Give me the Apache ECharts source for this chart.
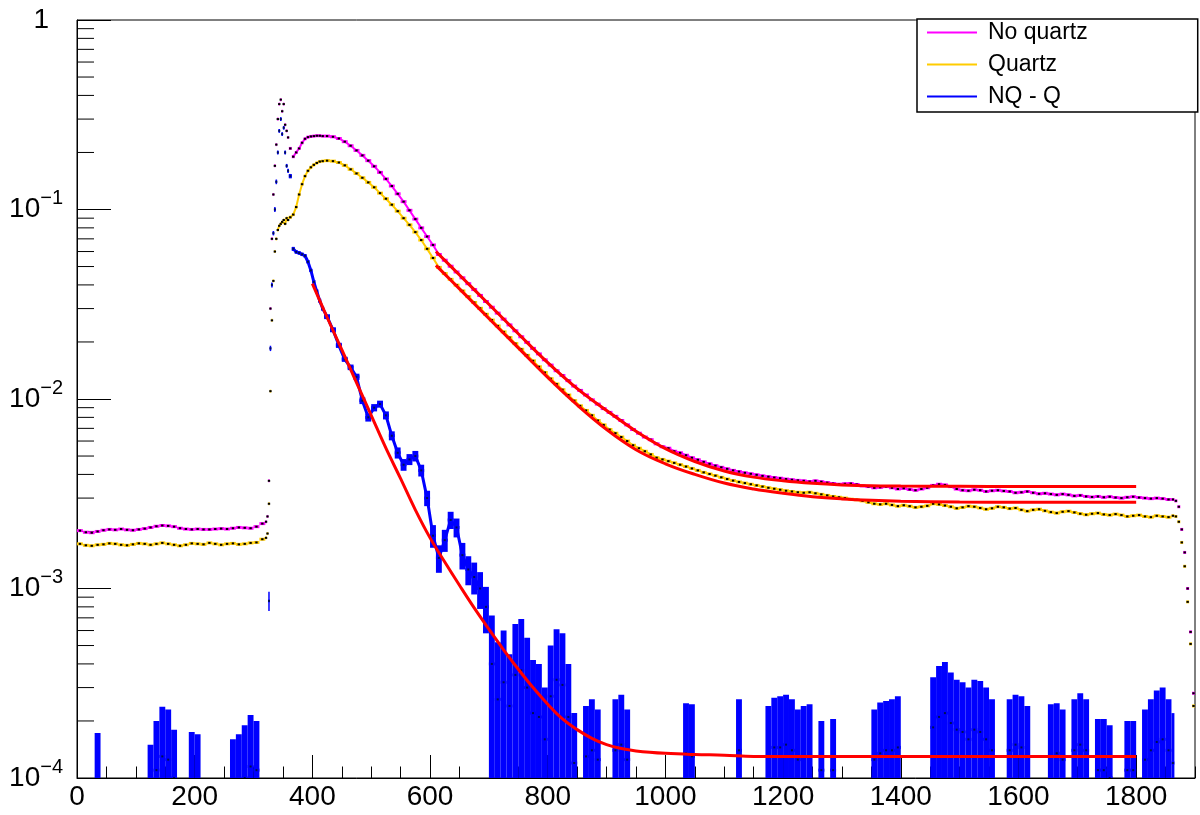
<!DOCTYPE html>
<html><head><meta charset="utf-8">
<script src="https://cdn.jsdelivr.net/npm/echarts@6/dist/echarts.min.js"></script>
<style>html,body{margin:0;padding:0;background:#fff}#c{width:1200px;height:815px}</style>
</head><body><div id="c"></div>
<script>
// histogram bin layout: [start, end, binWidth]
const binSegments = [[0,320,10],[320,360,2.5],[360,420,5],[420,1860,10],[1860,1900,5]];

const nqValues = [
// 0-320
2.02e-3,1.98e-3,1.97e-3,2.00e-3,2.03e-3,2.05e-3,2.04e-3,2.06e-3,2.04e-3,2.03e-3,
2.05e-3,2.07e-3,2.10e-3,2.13e-3,2.15e-3,2.14e-3,2.12e-3,2.08e-3,2.06e-3,2.05e-3,
2.06e-3,2.05e-3,2.05e-3,2.06e-3,2.07e-3,2.06e-3,2.08e-3,2.10e-3,2.09e-3,2.08e-3,
2.12e-3,2.20e-3,
// 320-360
2.25e-3,2.4e-3,3.7e-3,0.030,0.070,0.120,0.170,0.220,0.300,0.360,0.380,0.330,0.360,0.280,0.260,0.240,
// 360-420
0.210,0.190,0.200,0.210,0.225,0.236,0.241,0.243,0.244,0.245,0.245,0.244,
// 420-1860
0.244,0.242,0.237,0.228,0.217,0.205,0.193,0.181,0.169,0.157,
0.145,0.133,0.121,0.110,0.099,0.089,0.080,0.072,0.065,0.0579,
0.0540,0.0502,0.0468,0.0436,0.0406,0.0378,0.0352,0.0327,0.0305,0.0284,
0.0264,0.0246,0.0229,0.0213,0.0199,0.0185,0.0173,0.0161,0.0151,0.0141,
0.0133,0.0125,0.0117,0.0111,0.0105,0.0099,0.0094,0.0089,0.0085,0.0081,
0.0077,0.0073,0.0069,0.0066,0.0063,0.0061,0.0058,0.0056,0.0055,0.0053,
0.0052,0.00505,0.0049,0.00478,0.00466,0.00455,0.00445,0.00436,0.00428,0.0042,
0.00414,0.00408,0.00403,0.00398,0.00393,0.00389,0.00385,0.00382,0.00378,0.00375,
0.00372,0.0037,0.00367,0.0037,0.00366,0.00362,0.00358,0.00355,0.00357,0.00358,
0.00354,0.00348,0.00345,0.0034,0.00342,0.00345,0.0034,0.00335,0.00338,0.00333,
0.0033,0.00335,0.0034,0.0035,0.00355,0.00352,0.00345,0.00335,0.0033,0.00328,
0.00332,0.0033,0.00325,0.00328,0.0033,0.00327,0.00325,0.0032,0.00322,0.00325,
0.0032,0.00316,0.00318,0.00315,0.00312,0.00315,0.00312,0.00308,0.0031,0.00306,
0.00304,0.00306,0.00303,0.00305,0.00302,0.003,0.00303,0.00305,0.00302,0.003,
0.00298,0.003,0.00298,0.00295,
// 1860-1900
2.95e-3,2.9e-3,2.7e-3,2.05e-3,1.55e-3,1.0e-3,5.9e-4,2.8e-4
];

const qValues = [
1.72e-3,1.69e-3,1.68e-3,1.70e-3,1.71e-3,1.73e-3,1.72e-3,1.70e-3,1.69e-3,1.71e-3,
1.73e-3,1.72e-3,1.70e-3,1.72e-3,1.74e-3,1.72e-3,1.70e-3,1.68e-3,1.70e-3,1.73e-3,
1.72e-3,1.71e-3,1.74e-3,1.72e-3,1.70e-3,1.72e-3,1.73e-3,1.71e-3,1.72e-3,1.74e-3,
1.75e-3,1.82e-3,
1.85e-3,1.95e-3,2.8e-3,0.011,0.026,0.042,0.060,0.070,0.078,0.082,0.084,0.086,0.088,0.084,0.090,0.088,
0.091,0.094,0.103,0.120,0.136,0.150,0.160,0.167,0.172,0.176,0.179,0.180,
0.181,0.180,0.177,0.171,0.163,0.155,0.147,0.139,0.131,0.122,
0.114,0.106,0.098,0.090,0.083,0.076,0.069,0.062,0.0555,0.0495,
0.0459,0.0428,0.0399,0.0372,0.0347,0.0323,0.0301,0.0280,0.0261,0.0243,
0.0226,0.0211,0.0196,0.0183,0.0170,0.0159,0.0148,0.0138,0.0128,0.0120,
0.0112,0.0105,0.0098,0.0092,0.0087,0.0082,0.0077,0.0073,0.0069,0.0066,
0.0063,0.0060,0.0057,0.0055,0.0053,0.0051,0.0049,0.0048,0.0047,0.0046,
0.0045,0.0044,0.0043,0.0042,0.0041,0.00402,0.00394,0.00386,0.00378,0.00371,
0.00365,0.00360,0.00355,0.00350,0.00345,0.00340,0.00336,0.00332,0.00328,0.00325,
0.00322,0.00320,0.00322,0.00318,0.00314,0.00310,0.00306,0.00303,0.00300,0.00296,
0.00294,0.00290,0.00285,0.00280,0.00278,0.00280,0.00276,0.00272,0.00275,0.00272,
0.00268,0.00270,0.00273,0.00280,0.00278,0.00274,0.00270,0.00265,0.00268,0.00272,
0.00270,0.00266,0.00262,0.00265,0.00270,0.00268,0.00264,0.00266,0.00260,0.00256,
0.00260,0.00262,0.00257,0.00253,0.00250,0.00254,0.00256,0.00252,0.00248,0.00245,
0.00248,0.00250,0.00246,0.00244,0.00247,0.00244,0.00240,0.00242,0.00244,0.00240,
0.00238,0.00242,0.00240,0.00238,
2.42e-3,2.4e-3,2.25e-3,1.75e-3,1.31e-3,8.5e-4,5.1e-4,2.4e-4
];

const diffValues = [
null,null,null,0.95e-4,null,null,null,null,null,null,
null,null,0.8e-4,1.1e-4,1.3e-4,1.25e-4,1.0e-4,null,null,0.95e-4,
0.9e-4,null,null,null,null,null,0.85e-4,0.9e-4,1.0e-4,1.15e-4,
1.1e-4,null,
null,null,8.6e-4,0.0185,0.040,0.075,0.100,0.140,0.200,0.260,0.300,0.250,0.270,0.200,0.170,0.160,
0.150,0.062,0.0597,0.059,0.058,0.057,0.053,0.0477,0.0415,0.037,0.033,0.030,
0.0272,0.0232,0.0192,0.0162,0.0147,0.0131,0.0098,0.0080,0.0090,0.0094,
0.0082,0.0064,0.0052,0.0045,0.0048,0.0050,0.0042,0.0030,0.0019,0.00145,
0.0018,0.0023,0.0021,0.0015,0.00126,0.00115,0.0010,0.0008,0.0004,0.00026,
3.2e-4,2.4e-4,3.5e-4,3.7e-4,3.0e-4,2.2e-4,2.1e-4,1.6e-4,2.7e-4,3.3e-4,
3.1e-4,2.1e-4,1.2e-4,null,1.3e-4,1.4e-4,1.25e-4,null,null,1.4e-4,
1.5e-4,1.25e-4,null,null,null,null,null,null,null,null,
null,1.35e-4,1.3e-4,null,null,null,null,null,null,null,
1.4e-4,null,null,null,null,1.3e-4,1.45e-4,1.45e-4,1.5e-4,1.4e-4,
1.25e-4,1.3e-4,1.3e-4,null,1.1e-4,null,1.1e-4,null,null,null,
null,null,null,1.25e-4,1.35e-4,1.4e-4,1.4e-4,1.45e-4,null,null,
null,null,null,1.85e-4,2.1e-4,2.2e-4,1.95e-4,1.8e-4,1.75e-4,1.6e-4,
1.8e-4,1.75e-4,1.6e-4,1.4e-4,null,null,1.4e-4,1.5e-4,1.45e-4,1.3e-4,
null,null,null,1.3e-4,1.35e-4,1.25e-4,null,1.4e-4,1.5e-4,1.4e-4,
null,1.1e-4,1.1e-4,1.0e-4,null,null,1.1e-4,1.1e-4,null,1.25e-4,
1.4e-4,1.55e-4,1.6e-4,1.4e-4,
1.2e-4,null,null,null,null,null,null,null
];

const diffErrors = [
null,null,null,0.78e-4,null,null,null,null,null,null,
null,null,0.7e-4,0.9e-4,1.08e-4,1.05e-4,0.8e-4,null,null,0.8e-4,
0.8e-4,null,null,null,null,null,0.75e-4,0.8e-4,0.9e-4,1.0e-4,
0.9e-4,null,
null,null,1.0e-4,6e-4,1.2e-3,2e-3,3e-3,4e-3,5e-3,6e-3,7e-3,6e-3,6e-3,5e-3,4e-3,4e-3,
4e-3,1.5e-3,1.2e-3,1.2e-3,1.2e-3,1.2e-3,1.1e-3,1.0e-3,1.0e-3,9e-4,8e-4,8e-4,
8e-4,7e-4,6e-4,5e-4,5e-4,5e-4,4e-4,4e-4,4e-4,4e-4,
4e-4,3.5e-4,3.5e-4,3.2e-4,3.2e-4,3.2e-4,3e-4,2.8e-4,2.6e-4,2.4e-4,
2.4e-4,2.4e-4,2.4e-4,2.4e-4,2.2e-4,2.2e-4,2.2e-4,2.2e-4,3.2e-4,2.6e-4,
2.8e-4,2.1e-4,3.0e-4,3.2e-4,2.5e-4,2.0e-4,1.9e-4,1.4e-4,2.3e-4,2.8e-4,
2.7e-4,1.9e-4,1.0e-4,null,1.1e-4,1.2e-4,1.05e-4,null,null,1.2e-4,
1.25e-4,1.05e-4,null,null,null,null,null,null,null,null,
null,1.13e-4,1.15e-4,null,null,null,null,null,null,null,
1.2e-4,null,null,null,null,1.1e-4,1.2e-4,1.25e-4,1.25e-4,1.2e-4,
1.05e-4,1.1e-4,1.15e-4,null,0.9e-4,null,0.95e-4,null,null,null,
null,null,null,1.05e-4,1.15e-4,1.15e-4,1.2e-4,1.25e-4,null,null,
null,null,null,1.55e-4,1.8e-4,1.9e-4,1.65e-4,1.5e-4,1.45e-4,1.4e-4,
1.5e-4,1.5e-4,1.4e-4,1.2e-4,null,null,1.2e-4,1.25e-4,1.25e-4,1.1e-4,
null,null,null,1.15e-4,1.13e-4,1.05e-4,null,1.2e-4,1.3e-4,1.2e-4,
null,0.95e-4,0.95e-4,0.9e-4,null,null,0.9e-4,0.9e-4,null,1.05e-4,
1.2e-4,1.35e-4,1.4e-4,1.2e-4,
1.0e-4,null,null,null,null,null,null,null
];

// fit curves
const nqFitX = [610,650,700,750,800,850,900,950,1000,1050,1100,1150,1200,1250,1300,1350,1400,1500,1600,1700,1800];
const nqFitY = [0.060,0.0451,0.0316,0.0221,0.01556,0.01135,0.0087,0.00676,0.00547,0.00468,0.00417,0.00387,0.0037,0.00359,0.00352,0.00348,0.00347,0.00346,0.00345,0.00345,0.00345];
const qFitY  = [0.0507,0.0381,0.0266,0.0186,0.013,0.0093,0.0069,0.0054,0.00455,0.004,0.0036,0.00335,0.00318,0.00305,0.00297,0.00292,0.00289,0.00286,0.00285,0.00285,0.00285];
const diffFitX = [400,425,450,475,500,525,550,575,600,625,650,675,700,725,750,775,800,825,850,875,900,925,950,1000,1050,1100,1150,1200,1400,1600,1800];
const diffFitY = [0.0406,0.027,0.0182,0.0122,0.0082,0.0055,0.0038,0.0026,0.00185,0.00138,0.00104,7.9e-4,6.1e-4,4.75e-4,3.75e-4,3.0e-4,2.45e-4,2.05e-4,1.8e-4,1.62e-4,1.5e-4,1.43e-4,1.39e-4,1.35e-4,1.33e-4,1.32e-4,1.3e-4,1.3e-4,1.3e-4,1.3e-4,1.3e-4];

// ranges where neighbouring bins read as one continuous trace
const nqTraceRange = [365, 1860];
const qTraceRange = [340, 1860];
const diffTraceRange = [365, 700];

const seriesNames = ['No quartz','Quartz','NQ - Q'];
const yMinorTicks = [2e-4,3e-4,4e-4,5e-4,6e-4,7e-4,8e-4,9e-4,2e-3,3e-3,4e-3,5e-3,6e-3,7e-3,8e-3,9e-3,
  0.02,0.03,0.04,0.05,0.06,0.07,0.08,0.09,0.2,0.3,0.4,0.5,0.6,0.7,0.8,0.9];

// ---- build bins ----
const bins = [];
binSegments.forEach(([a,b,s]) => { for (let k = 0; a + (k + 0.5) * s < b; k++) bins.push([a + (k + 0.5) * s, s]); });
[nqValues,qValues,diffValues,diffErrors].forEach((arr,i)=>{ if (arr.length !== bins.length) throw new Error('length mismatch '+i+': '+arr.length+' vs '+bins.length); });

const nqData = bins.map((b,i)=>[b[0], nqValues[i], b[1]]);
const qData = bins.map((b,i)=>[b[0], qValues[i], b[1]]);
const diffData = [];
bins.forEach((b,i)=>{ if (diffValues[i] != null) diffData.push([b[0], diffValues[i], diffErrors[i], b[1]]); });
function trace(vals, range){ const out=[]; bins.forEach((b,i)=>{ if (vals[i]!=null && b[0]>=range[0] && b[0]<=range[1]) out.push([b[0], vals[i]]); }); return out; }

const FONT = '"Liberation Sans", Arial, Helvetica, sans-serif';
const C_NQ = '#ff00ff', C_Q = '#ffcc00', C_D = '#0000ff', C_FIT = '#ff0000';

function histRender(color){
  return function(params, api){
    const x = api.value(0), y = api.value(1), w = api.value(2);
    const l = api.coord([x - w/2, y]), r = api.coord([x + w/2, y]), c = api.coord([x, y]);
    return {type:'group', children:[
      {type:'rect', shape:{x:l[0], y:c[1]-1.5, width:Math.max(r[0]-l[0],1.5), height:3}, style:{fill:color}},
      {type:'rect', shape:{x:c[0]-1.2, y:c[1]-1, width:2.4, height:2}, style:{fill:'#000'}}
    ]};
  };
}
function diffRender(params, api){
  const x = api.value(0), y = api.value(1), e = api.value(2), w = api.value(3);
  const l = api.coord([x - w/2, y]), r = api.coord([x + w/2, y]), c = api.coord([x, y]);
  const top = api.coord([x, y + e])[1];
  const bot = api.coord([x, Math.max(y - e, 1e-7)])[1];
  const wpx = Math.max(r[0]-l[0], 1.5);
  return {type:'group', children:[
    {type:'rect', shape:{x:l[0], y:top, width:wpx, height:Math.max(bot-top,1)}, style:{fill:C_D}},
    {type:'rect', shape:{x:l[0], y:c[1]-1.5, width:wpx, height:3}, style:{fill:C_D}},
    {type:'rect', shape:{x:c[0]-1, y:c[1]-1, width:2, height:2}, style:{fill:'#001050'}}
  ]};
}
function zip(xs, ys){ return xs.map((x,i)=>[x, ys[i]]); }

const chart = echarts.init(document.getElementById('c'), null, {renderer:'canvas'});
chart.setOption({
  animation:false,
  backgroundColor:'#fff',
  grid:{left:77, right:5, top:20, bottom:37, show:true, borderColor:'#000', borderWidth:1, backgroundColor:'transparent'},
  legend:{
    data:seriesNames, orient:'vertical', left:917, top:19, icon:'rect', itemWidth:50, itemHeight:2, itemGap:9,
    padding:[2,110,4,10], borderColor:'#000', borderWidth:1.5, backgroundColor:'#fff', selectedMode:false,
    textStyle:{fontSize:23, lineHeight:23, fontFamily:FONT, color:'#000', padding:[0,0,0,6]}
  },
  xAxis:[
    {type:'value', min:0, max:1900, interval:200,
     axisLine:{show:true, lineStyle:{color:'#000', width:1}},
     axisTick:{show:true, inside:true, length:23, lineStyle:{color:'#000', width:1}},
     axisLabel:{fontSize:28, fontFamily:FONT, color:'#000', margin:5, showMaxLabel:false, formatter:function(v){ return String(v); }},
     splitLine:{show:false}},
    {type:'value', min:0, max:1900, interval:50, position:'bottom',
     axisLine:{show:false}, axisLabel:{show:false}, splitLine:{show:false},
     axisTick:{show:true, inside:true, length:11.5, lineStyle:{color:'#000', width:1}}}
  ],
  yAxis:{type:'log', logBase:10, min:1e-4, max:1,
    axisLine:{show:true, lineStyle:{color:'#000', width:1}},
    axisTick:{show:true, inside:true, length:34, lineStyle:{color:'#000', width:1}},
    splitLine:{show:false},
    axisLabel:{margin:14, color:'#000',
      formatter:function(v){ const n = Math.round(Math.log10(v)); return n === 0 ? '{one|1}' : '{b|10}{s|\u2212' + (-n) + '}'; },
      rich:{b:{fontSize:28, fontFamily:FONT, color:'#000'},
            one:{fontSize:28, fontFamily:FONT, color:'#000', padding:[0,14,0,0]},
            s:{fontSize:20, fontFamily:FONT, color:'#000', padding:[0,0,22,0]}}}
  },
  series:[
    {type:'custom', name:'yMinorTicks', silent:true, clip:false, data:yMinorTicks.map(v=>[0,v]), encode:{x:0,y:1},
     renderItem:function(params, api){ const p = api.coord([api.value(0), api.value(1)]);
       return {type:'line', shape:{x1:p[0], y1:p[1], x2:p[0]+17, y2:p[1]}, style:{stroke:'#000', lineWidth:1}}; }},
    {type:'line', name:'diffTrace', data:trace(diffValues, diffTraceRange), showSymbol:false, lineStyle:{color:C_D, width:3}, z:1, silent:true},
    {type:'line', name:'qTrace', data:trace(qValues, qTraceRange), showSymbol:false, lineStyle:{color:C_Q, width:2}, z:1, silent:true},
    {type:'line', name:'nqTrace', data:trace(nqValues, nqTraceRange), showSymbol:false, lineStyle:{color:C_NQ, width:2}, z:1, silent:true},
    {type:'custom', name:'NQ - Q', itemStyle:{color:C_D}, clip:true, data:diffData, encode:{x:0,y:1}, renderItem:diffRender, z:2},
    {type:'custom', name:'Quartz', itemStyle:{color:C_Q}, clip:true, data:qData, encode:{x:0,y:1}, renderItem:histRender(C_Q), z:3},
    {type:'custom', name:'No quartz', itemStyle:{color:C_NQ}, clip:true, data:nqData, encode:{x:0,y:1}, renderItem:histRender(C_NQ), z:3},
    {type:'line', name:'fitNQ', data:zip(nqFitX,nqFitY), showSymbol:false, smooth:0.4, lineStyle:{color:C_FIT, width:3}, z:5, silent:true},
    {type:'line', name:'fitQ', data:zip(nqFitX,qFitY), showSymbol:false, smooth:0.4, lineStyle:{color:C_FIT, width:3}, z:5, silent:true},
    {type:'line', name:'fitD', data:zip(diffFitX,diffFitY), showSymbol:false, smooth:0.4, lineStyle:{color:C_FIT, width:3}, z:5, silent:true}
  ]
});
</script></body></html>
